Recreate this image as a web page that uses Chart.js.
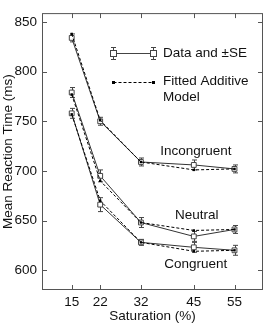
<!DOCTYPE html>
<html>
<head>
<meta charset="utf-8">
<script src="https://cdn.jsdelivr.net/npm/chart.js@4"></script>
<style>
  html, body { margin: 0; padding: 0; background: #fff; }
  #wrap { width: 268px; height: 324px; position: relative; }
</style>
</head>
<body>
<div id="wrap"><canvas id="chart" width="268" height="324"></canvas></div>
<script>
// Chart values
var saturation = [15, 22, 32, 45, 55];
var xTicks = [15, 22, 32, 45, 55];
var yTicks = [600, 650, 700, 750, 800, 850];

var incongruentData  = [834, 750, 709, 706, 702];
var incongruentModel = [838, 751, 709, 701, 702];
var incongruentSE    = [4, 4, 4, 5, 4];

var neutralData  = [779, 695, 648, 634, 641];
var neutralModel = [777, 690, 648, 640, 641];
var neutralSE    = [5, 6, 5, 5, 4];

var congruentData  = [758, 666, 628, 623, 620];
var congruentModel = [757, 670, 628, 619, 620];
var congruentSE    = [5, 7, 3, 5, 5];

var FONT = '"Liberation Sans", Arial, sans-serif';
var FSIZE = 13.5;

/*
 * Turns a value list into points for a linear x axis
 */
var toPoints = function(values) {
    return values.map(function(v, i) { return { x: saturation[i], y: v }; });
};

var dataSet = function(label, values, se) {
    return {
        label: label,
        data: toPoints(values),
        se: se,
        borderColor: '#333',
        borderWidth: 1,
        pointStyle: 'rect',
        pointRadius: 3.4,
        pointBackgroundColor: '#fff',
        pointBorderColor: '#444',
        pointBorderWidth: 1,
        tension: 0
    };
};

var modelSet = function(label, values) {
    return {
        label: label,
        data: toPoints(values),
        borderColor: '#000',
        borderWidth: 1,
        borderDash: [3, 2],
        pointStyle: 'rect',
        pointRadius: 1.7,
        pointBackgroundColor: '#000',
        pointBorderColor: '#000',
        pointBorderWidth: 0,
        tension: 0
    };
};

// Error bars drawn behind the markers
var errorBars = {
    id: 'errorBars',
    beforeDatasetsDraw: function(chart) {
        var ctx = chart.ctx, xs = chart.scales.x, ys = chart.scales.y;
        ctx.save();
        ctx.strokeStyle = '#444';
        ctx.lineWidth = 1;
        chart.data.datasets.forEach(function(ds) {
            if (!ds.se) return;
            ds.data.forEach(function(p, i) {
                var x = Math.round(xs.getPixelForValue(p.x)) + 0.5;
                var y1 = ys.getPixelForValue(p.y - ds.se[i]);
                var y2 = ys.getPixelForValue(p.y + ds.se[i]);
                ctx.beginPath();
                ctx.moveTo(x, y1); ctx.lineTo(x, y2);
                ctx.moveTo(x - 2.5, y1); ctx.lineTo(x + 2.5, y1);
                ctx.moveTo(x - 2.5, y2); ctx.lineTo(x + 2.5, y2);
                ctx.stroke();
            });
        });
        ctx.restore();
    }
};

// Box, inward ticks, condition labels and legend
var frame = {
    id: 'frame',
    afterDraw: function(chart) {
        var ctx = chart.ctx, a = chart.chartArea;
        var xs = chart.scales.x, ys = chart.scales.y;
        ctx.save();
        ctx.strokeStyle = '#555';
        ctx.lineWidth = 1;
        ctx.strokeRect(a.left + 0.5, a.top + 0.5, a.right - a.left - 1, a.bottom - a.top - 1);

        ctx.beginPath();
        xTicks.forEach(function(t) {
            var x = Math.round(xs.getPixelForValue(t)) + 0.5;
            ctx.moveTo(x, a.bottom); ctx.lineTo(x, a.bottom - 5);
            ctx.moveTo(x, a.top); ctx.lineTo(x, a.top + 5);
        });
        yTicks.forEach(function(t) {
            var y = Math.round(ys.getPixelForValue(t)) + 0.5;
            ctx.moveTo(a.left, y); ctx.lineTo(a.left + 5, y);
            ctx.moveTo(a.right, y); ctx.lineTo(a.right - 5, y);
        });
        ctx.stroke();

        // Condition labels
        ctx.fillStyle = '#111';
        ctx.font = FSIZE + 'px ' + FONT;
        ctx.textAlign = 'center';
        ctx.textBaseline = 'middle';
        ctx.fillText('Incongruent', xs.getPixelForValue(45.5), ys.getPixelForValue(720));
        ctx.fillText('Neutral', xs.getPixelForValue(45.7), ys.getPixelForValue(655.5));
        ctx.fillText('Congruent', xs.getPixelForValue(45.5), ys.getPixelForValue(605.5));

        // Legend
        var lx1 = 113.5, lx2 = 153.5, y1 = 53.5, y2 = 82.5;
        ctx.strokeStyle = '#444';
        ctx.beginPath();
        ctx.moveTo(lx1, y1); ctx.lineTo(lx2, y1);
        [lx1, lx2].forEach(function(x) {
            ctx.moveTo(x, y1 - 6); ctx.lineTo(x, y1 + 6);
            ctx.moveTo(x - 2.5, y1 - 6); ctx.lineTo(x + 2.5, y1 - 6);
            ctx.moveTo(x - 2.5, y1 + 6); ctx.lineTo(x + 2.5, y1 + 6);
        });
        ctx.stroke();
        ctx.fillStyle = '#fff';
        [lx1, lx2].forEach(function(x) {
            ctx.fillRect(x - 3, y1 - 3, 6, 6);
            ctx.strokeRect(x - 3, y1 - 3, 6, 6);
        });
        ctx.strokeStyle = '#000';
        ctx.setLineDash([3, 2]);
        ctx.beginPath();
        ctx.moveTo(lx1, y2); ctx.lineTo(lx2, y2);
        ctx.stroke();
        ctx.setLineDash([]);
        ctx.fillStyle = '#000';
        [lx1, lx2].forEach(function(x) { ctx.fillRect(x - 1.5, y2 - 1.5, 3, 3); });

        ctx.fillStyle = '#111';
        ctx.textAlign = 'left';
        ctx.fillText('Data and \u00b1SE', 163, y1);
        ctx.fillText('Fitted Additive', 163, y2 - 1);
        ctx.fillText('Model', 163, y2 + 15);
        ctx.restore();
    }
};

var ctx = document.getElementById('chart').getContext('2d');
var chart = new Chart(ctx, {
    type: 'line',
    data: {
        datasets: [
            modelSet('Incongruent model', incongruentModel),
            modelSet('Neutral model', neutralModel),
            modelSet('Congruent model', congruentModel),
            dataSet('Incongruent', incongruentData, incongruentSE),
            dataSet('Neutral', neutralData, neutralSE),
            dataSet('Congruent', congruentData, congruentSE)
        ]
    },
    options: {
        responsive: false,
        animation: false,
        layout: { padding: { top: 2, right: 2, left: 0, bottom: 0 } },
        plugins: { legend: { display: false }, tooltip: { enabled: false } },
        scales: {
            x: {
                type: 'linear',
                min: 7.7,
                max: 62,
                afterBuildTicks: function(s) { s.ticks = xTicks.map(function(v) { return { value: v }; }); },
                afterFit: function(s) { s.height = 34; },
                grid: { display: false, drawTicks: false },
                border: { display: false },
                ticks: { color: '#111', font: { family: FONT, size: FSIZE }, padding: 4, maxRotation: 0 },
                title: { display: true, text: 'Saturation (%)', color: '#111', font: { family: FONT, size: FSIZE }, padding: { top: 0, bottom: 0 } }
            },
            y: {
                type: 'linear',
                min: 580,
                max: 859,
                afterBuildTicks: function(s) { s.ticks = yTicks.map(function(v) { return { value: v }; }); },
                afterFit: function(s) { s.width = 42; },
                grid: { display: false, drawTicks: false },
                border: { display: false },
                ticks: { color: '#111', font: { family: FONT, size: FSIZE }, padding: 5 },
                title: { display: true, text: 'Mean Reaction Time (ms)', color: '#111', font: { family: FONT, size: FSIZE }, padding: { top: 0, bottom: 0 } }
            }
        }
    },
    plugins: [errorBars, frame]
});
</script>
</body>
</html>
